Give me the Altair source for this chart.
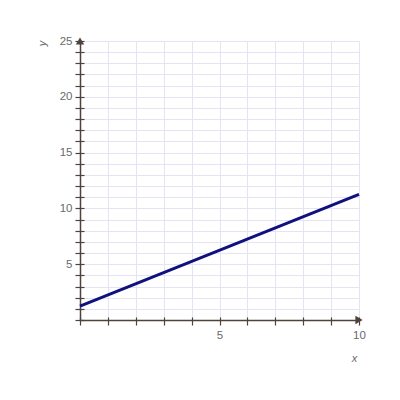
import altair as alt
import pandas as pd

line_x = [0, 10]
line_y = [1.25, 11.25]
x_ticks = list(range(0, 11))
y_ticks = list(range(0, 26))
arrow_x = [10, 0]
arrow_y = [0, 25]
arrow_shape = ["triangle-right", "triangle-up"]

AX = "#4f423c"
GRID = "#e4e4f4"
FONT = "Liberation Sans"
LBL = "#6a6a6a"

df = pd.DataFrame({"x": line_x, "y": line_y})
arr = pd.DataFrame({"x": arrow_x, "y": arrow_y, "s": arrow_shape})

xscale = alt.Scale(domain=[0, 10], nice=False, zero=False)
yscale = alt.Scale(domain=[0, 25], nice=False, zero=False)

xaxis = alt.Axis(orient="bottom", values=x_ticks, grid=True, gridColor=GRID, gridWidth=1,
                 domainColor=AX, domainWidth=1.5, tickColor=AX, tickSize=5, tickWidth=1.2,
                 labelExpr="datum.value % 5 == 0 && datum.value > 0 ? datum.label : ''",
                 labelColor=LBL, labelFont=FONT, labelFontSize=11.5, labelPadding=4,
                 labelFlush=False,
                 title="x", titleFont=FONT, titleFontStyle="italic", titleFontWeight="normal",
                 titleFontSize=11, titleColor=LBL, titleX=274, titleY=32)
yaxis = alt.Axis(orient="left", values=y_ticks, grid=True, gridColor=GRID, gridWidth=1,
                 domainColor=AX, domainWidth=1.5, tickColor=AX, tickSize=5, tickWidth=1.2,
                 labelExpr="datum.value % 5 == 0 && datum.value > 0 ? datum.label : ''",
                 labelColor=LBL, labelFont=FONT, labelFontSize=11.5, labelPadding=3,
                 labelFlush=False,
                 title="y", titleFont=FONT, titleFontStyle="italic", titleFontWeight="normal",
                 titleFontSize=11, titleColor=LBL, titleX=-33, titleY=2, titleAngle=-90)

# inner half of the crossing ticks
xaxis_in = alt.Axis(orient="bottom", values=x_ticks, grid=False, domain=False, labels=False,
                    tickColor=AX, tickSize=3, tickWidth=1.2, offset=-3, title=None)
yaxis_in = alt.Axis(orient="left", values=y_ticks, grid=False, domain=False, labels=False,
                    tickColor=AX, tickSize=4, tickWidth=1.2, offset=-4, title=None)

line = alt.Chart(df).mark_line(color="#10107f", strokeWidth=3).encode(
    x=alt.X("x:Q", scale=xscale, axis=xaxis),
    y=alt.Y("y:Q", scale=yscale, axis=yaxis),
)

arrows = alt.Chart(arr).mark_point(filled=True, color=AX, size=70, opacity=1, clip=False).encode(
    x=alt.X("x:Q", scale=xscale, axis=xaxis_in),
    y=alt.Y("y:Q", scale=yscale, axis=yaxis_in),
    shape=alt.Shape("s:N", scale=None, legend=None),
)

chart = alt.layer(line, arrows).resolve_axis(x="independent", y="independent").properties(
    width=279, height=279,
    autosize=alt.AutoSizeParams(type="none"),
    padding={"left": 72, "top": 33, "right": 20, "bottom": 70},
).configure_view(stroke=None)

chart.save("out.html", embed_options={"renderer": "svg", "actions": False})
